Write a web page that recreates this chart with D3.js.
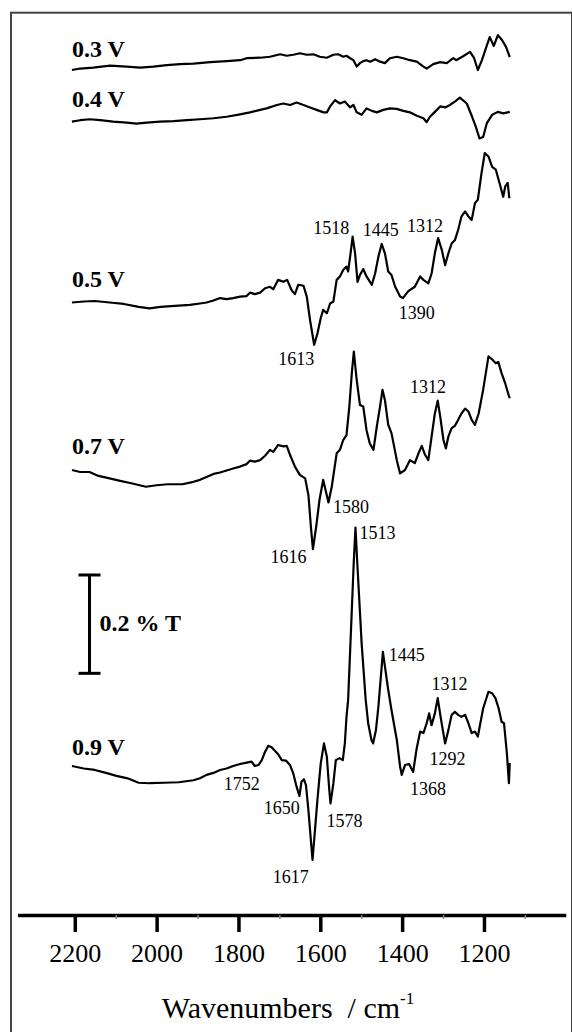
<!DOCTYPE html>
<html lang="en">
<head>
<meta charset="utf-8">
<title>FTIR spectra</title>
<script src="https://d3js.org/d3.v7.js"></script>
<style>
  body { margin: 0; background: #fff; }
  text { font-family: "Liberation Serif", "Times New Roman", serif; fill: #000; }
</style>
</head>
<body>
<script>
  var w = 572;
  var h = 1032;

  // potentials shown, and where each trace sits (in %T, 0 = the axis line)
  var potentials = ["0.3 V", "0.4 V", "0.5 V", "0.7 V", "0.9 V"];
  var offsets = [1.7185, 1.6134, 1.2447, 0.905, 0.303];
  var labelY = [1.7456, 1.6439, 1.2778, 0.9376, 0.3254];

  // spectra: [wavenumber, change in %T]
  var s03 = [[2207,0],[2187,0.003],[2155,0.005],[2114,0.009],[2073,0.007],[2040,0.005],[2008,0.007],[1975,0.010],[1943,0.012],[1910,0.013],[1869,0.016],[1829,0.018],[1796,0.020],[1780,0.024],[1747,0.025],[1723,0.027],[1698,0.032],[1682,0.029],[1666,0.031],[1650,0.034],[1633,0.031],[1617,0.032],[1601,0.027],[1584,0.025],[1568,0.031],[1556,0.032],[1544,0.027],[1536,0.029],[1527,0.024],[1519,0.020],[1511,0.007],[1503,0.014],[1495,0.018],[1487,0.020],[1478,0.017],[1466,0.022],[1454,0.017],[1442,0.014],[1430,0.024],[1413,0.027],[1397,0.024],[1381,0.020],[1364,0.017],[1348,0.007],[1340,0.003],[1324,0.012],[1307,0.016],[1291,0.014],[1275,0.024],[1268,0.020],[1251,0.028],[1234,0.037],[1224,0.024],[1215,0],[1205,0.020],[1195,0.045],[1186,0.067],[1176,0.049],[1166,0.071],[1156,0.061],[1146,0.047],[1137,0.026]];

  var s04 = [[2207,0],[2187,0.003],[2163,0.005],[2138,0.003],[2106,0],[2073,-0.002],[2049,-0.004],[2024,-0.002],[1992,0],[1959,0.001],[1926,0.003],[1894,0.005],[1861,0.007],[1829,0.010],[1796,0.015],[1772,0.019],[1747,0.024],[1731,0.027],[1706,0.034],[1690,0.037],[1674,0.034],[1658,0.039],[1641,0.034],[1625,0.029],[1609,0.024],[1592,0.019],[1584,0.019],[1576,0.031],[1564,0.044],[1552,0.037],[1540,0.041],[1527,0.029],[1519,0.034],[1511,0.019],[1499,0.014],[1487,0.027],[1474,0.022],[1462,0.019],[1446,0.024],[1430,0.027],[1413,0.026],[1397,0.022],[1381,0.019],[1364,0.012],[1348,0.007],[1340,-0.001],[1332,0.010],[1320,0.020],[1307,0.031],[1295,0.029],[1283,0.034],[1271,0.041],[1259,0.049],[1242,0.037],[1229,0.010],[1220,-0.010],[1211,-0.034],[1202,-0.031],[1193,-0.003],[1180,0.014],[1166,0.020],[1153,0.017],[1137,0.020]];

  var s05 = [[2207,0.001],[2178,0.003],[2151,0.004],[2115,0.001],[2080,-0.002],[2044,-0.008],[2017,-0.011],[1991,-0.008],[1955,-0.006],[1919,-0.004],[1894,-0.001],[1878,0.001],[1861,0.005],[1845,0.010],[1829,0.008],[1813,0.010],[1796,0.013],[1780,0.014],[1772,0.021],[1760,0.018],[1747,0.021],[1735,0.030],[1723,0.033],[1715,0.028],[1703,0.047],[1690,0.043],[1681,0.047],[1670,0.026],[1662,0.018],[1654,0.037],[1641,0.035],[1633,0.013],[1625,-0.035],[1615,-0.085],[1607,-0.062],[1599,-0.031],[1593,-0.014],[1584,-0.021],[1576,-0.001],[1568,0.003],[1560,0.047],[1552,0.054],[1544,0.067],[1536,0.074],[1532,0.064],[1526,0.101],[1521,0.135],[1515,0.101],[1509,0.043],[1503,0.057],[1495,0.069],[1487,0.054],[1474,0.037],[1466,0.060],[1458,0.094],[1450,0.120],[1442,0.101],[1434,0.064],[1426,0.057],[1417,0.033],[1405,0.013],[1398,0.010],[1385,0.024],[1369,0.033],[1356,0.054],[1348,0.047],[1336,0.040],[1328,0.060],[1320,0.101],[1312,0.132],[1303,0.108],[1295,0.077],[1287,0.101],[1279,0.121],[1271,0.128],[1263,0.149],[1255,0.176],[1246,0.186],[1238,0.176],[1230,0.169],[1222,0.203],[1215,0.210],[1206,0.264],[1198,0.305],[1189,0.298],[1180,0.277],[1171,0.271],[1162,0.244],[1153,0.216],[1148,0.237],[1142,0.244],[1138,0.213]];

  var s07 = [[2207,0],[2187,-0.004],[2164,-0.004],[2142,-0.012],[2115,-0.017],[2089,-0.022],[2062,-0.027],[2026,-0.034],[2000,-0.031],[1973,-0.029],[1937,-0.029],[1910,-0.024],[1894,-0.020],[1878,-0.014],[1861,-0.008],[1845,-0.005],[1829,-0.001],[1813,0.003],[1796,0.007],[1780,0.012],[1772,0.019],[1760,0.017],[1747,0.020],[1735,0.029],[1723,0.041],[1715,0.037],[1703,0.051],[1690,0.048],[1682,0.049],[1674,0.031],[1662,0.007],[1650,-0.010],[1637,-0.017],[1629,-0.051],[1623,-0.115],[1618,-0.161],[1610,-0.115],[1602,-0.061],[1593,-0.020],[1580,-0.066],[1572,-0.034],[1560,0.034],[1552,0.041],[1544,0.061],[1536,0.071],[1529,0.129],[1523,0.197],[1518,0.241],[1511,0.183],[1503,0.132],[1495,0.129],[1487,0.081],[1479,0.054],[1470,0.041],[1462,0.088],[1454,0.129],[1448,0.163],[1442,0.142],[1434,0.092],[1426,0.075],[1413,0.020],[1405,-0.007],[1393,0],[1381,0.020],[1369,0.014],[1360,0.034],[1352,0.049],[1344,0.031],[1336,0.020],[1328,0.068],[1320,0.115],[1313,0.141],[1307,0.109],[1299,0.061],[1293,0.044],[1287,0.068],[1279,0.085],[1271,0.090],[1263,0.102],[1255,0.115],[1246,0.125],[1238,0.119],[1230,0.102],[1222,0.092],[1213,0.115],[1202,0.163],[1189,0.231],[1180,0.225],[1171,0.217],[1165,0.220],[1157,0.197],[1148,0.176],[1141,0.156],[1137,0.146]];

  var s09 = [[2207,0],[2178,-0.005],[2151,-0.008],[2124,-0.014],[2098,-0.020],[2071,-0.025],[2044,-0.034],[2017,-0.035],[1982,-0.034],[1946,-0.033],[1910,-0.029],[1894,-0.025],[1878,-0.018],[1861,-0.014],[1845,-0.008],[1829,-0.005],[1813,0],[1796,0.004],[1780,0.007],[1768,0.009],[1760,0],[1751,0.002],[1743,0.012],[1735,0.029],[1727,0.041],[1719,0.038],[1711,0.031],[1703,0.024],[1694,0.012],[1684,0.011],[1674,0.002],[1666,-0.015],[1658,-0.042],[1651,-0.061],[1646,-0.032],[1640,-0.027],[1635,-0.039],[1629,-0.090],[1623,-0.151],[1619,-0.191],[1615,-0.151],[1607,-0.069],[1599,0.005],[1591,0.046],[1584,0.019],[1578,-0.049],[1575,-0.076],[1568,-0.035],[1562,0.012],[1553,0.016],[1545,0.012],[1540,0.046],[1536,0.100],[1532,0.134],[1523,0.317],[1518,0.419],[1514,0.485],[1510,0.419],[1499,0.250],[1489,0.134],[1483,0.087],[1475,0.053],[1471,0.046],[1464,0.073],[1458,0.121],[1447,0.232],[1434,0.155],[1426,0.114],[1413,0.053],[1405,-0.001],[1401,-0.018],[1393,0.002],[1383,0.004],[1373,-0.012],[1365,0.033],[1356,0.070],[1348,0.067],[1340,0.087],[1334,0.107],[1328,0.083],[1320,0.107],[1313,0.138],[1306,0.100],[1295,0.046],[1287,0.073],[1279,0.104],[1271,0.110],[1263,0.104],[1255,0.100],[1246,0.104],[1238,0.087],[1230,0.067],[1222,0.070],[1215,0.060],[1202,0.117],[1189,0.151],[1180,0.148],[1172,0.138],[1164,0.117],[1157,0.090],[1151,0.087],[1144,0.026],[1139,-0.035],[1137,0.006]];

  var spectra = [s03, s04, s05, s07, s09];

  // peak labels: [text, wavenumber of label centre, %T of baseline]
  var peaks = [
    ["1518", 1573, 1.3844], ["1445", 1452, 1.3815], ["1312", 1344, 1.3897],
    ["1390", 1364, 1.2121], ["1613", 1659, 1.1192],
    ["1312", 1337, 1.0610], ["1580", 1525, 0.8170], ["1616", 1678, 0.7153],
    ["1513", 1460, 0.7641], ["1445", 1389, 0.5172], ["1312", 1284, 0.4576],
    ["1292", 1289, 0.3051], ["1368", 1337, 0.2441], ["1752", 1792, 0.2542],
    ["1650", 1694, 0.2054], ["1578", 1541, 0.1784], ["1617", 1672, 0.0645]
  ];

  var majorTicks = [2200, 2000, 1800, 1600, 1400, 1200];
  var minorTicks = [2100, 1900, 1700, 1500, 1300, 1100];

  // scale bar: 0.2 %T
  var barSize = 0.2;
  var barBase = 0.4915;
  var barWn = 2164;

  var xScale = d3.scaleLinear()
    .domain([2340, 1000])
    .range([17.5, 565.8]);

  var yScale = d3.scaleLinear()
    .domain([0, 1])
    .range([915, 423.3]);

  var svg = d3.select("body")
    .append("svg")
    .attr("width", w)
    .attr("height", h);

  svg.append("rect")
    .attr("width", w).attr("height", h)
    .attr("fill", "#fff");

  // frame
  svg.append("rect")
    .attr("x", 11).attr("y", 12.7)
    .attr("width", 561).attr("height", 1100)
    .attr("fill", "none")
    .attr("stroke", "#444")
    .attr("stroke-width", 2);

  // spectra
  spectra.forEach(function (s, i) {
    var line = d3.line()
      .x(function (d) { return xScale(d[0]); })
      .y(function (d) { return yScale(d[1] + offsets[i]); });

    svg.append("path")
      .datum(s)
      .attr("d", line)
      .attr("fill", "none")
      .attr("stroke", "#000")
      .attr("stroke-width", 2.2)
      .attr("stroke-linejoin", "round");

    svg.append("text")
      .attr("x", xScale(s[0][0]))
      .attr("y", yScale(labelY[i]))
      .attr("font-size", 24)
      .attr("font-weight", "bold")
      .text(potentials[i]);
  });

  // peak labels
  svg.selectAll(".peak")
    .data(peaks)
    .enter()
    .append("text")
    .attr("class", "peak")
    .attr("x", function (d) { return xScale(d[1]); })
    .attr("y", function (d) { return yScale(d[2]); })
    .attr("text-anchor", "middle")
    .attr("font-size", 18)
    .text(function (d) { return d[0]; });

  // scale bar
  var bx = xScale(barWn);
  var bar = svg.append("g")
    .attr("stroke", "#000")
    .attr("stroke-width", 3);
  bar.append("line")
    .attr("x1", bx).attr("x2", bx)
    .attr("y1", yScale(barBase)).attr("y2", yScale(barBase + barSize));
  bar.append("line")
    .attr("x1", bx - 11).attr("x2", bx + 11)
    .attr("y1", yScale(barBase)).attr("y2", yScale(barBase));
  bar.append("line")
    .attr("x1", bx - 11).attr("x2", bx + 11)
    .attr("y1", yScale(barBase + barSize)).attr("y2", yScale(barBase + barSize));
  svg.append("text")
    .attr("x", bx + 10)
    .attr("y", yScale(barBase + barSize / 2))
    .attr("dy", "0.3em")
    .attr("font-size", 24)
    .attr("font-weight", "bold")
    .text("0.2 % T");

  // x axis
  var xAxis = d3.axisBottom(xScale)
    .tickValues(majorTicks)
    .tickSize(17)
    .tickSizeOuter(0)
    .tickFormat(d3.format("d"));

  var gx = svg.append("g")
    .attr("transform", "translate(0,915)")
    .call(xAxis);
  gx.select(".domain").attr("stroke", "#000").attr("stroke-width", 3.5);
  gx.selectAll(".tick line").attr("stroke", "#000").attr("stroke-width", 3.5);
  gx.selectAll(".tick text")
    .attr("y", 47)
    .attr("dy", 0)
    .attr("font-size", 26)
    .attr("fill", "#000");

  var gMinor = svg.append("g")
    .attr("transform", "translate(0,915)")
    .call(d3.axisBottom(xScale).tickValues(minorTicks).tickSize(4).tickFormat(""));
  gMinor.select(".domain").remove();
  gMinor.selectAll(".tick line").attr("stroke", "#888").attr("stroke-width", 1.5);

  // axis title
  var title = svg.append("text")
    .attr("x", 288)
    .attr("y", 1018)
    .attr("text-anchor", "middle")
    .attr("font-size", 30)
    .style("white-space", "pre");
  title.append("tspan").text("Wavenumbers  / cm");
  title.append("tspan")
    .attr("dy", -14)
    .attr("font-size", 17)
    .text("-1");
</script>
</body>
</html>
